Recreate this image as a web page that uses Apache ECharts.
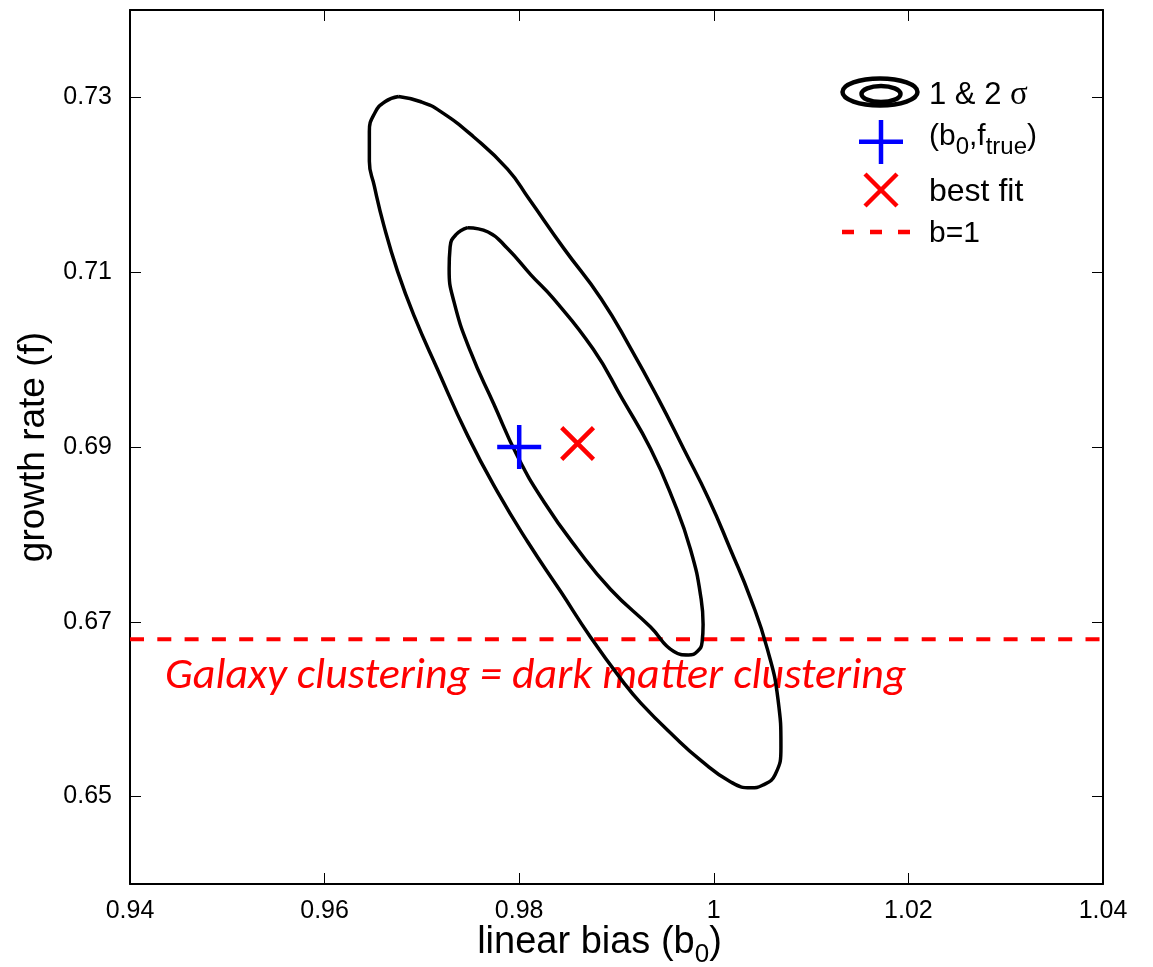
<!DOCTYPE html>
<html><head><meta charset="utf-8">
<script src="https://cdn.jsdelivr.net/npm/echarts@6/dist/echarts.min.js"></script>
<style>html,body{margin:0;padding:0;background:#fff}#c{width:1153px;height:967px}</style>
</head><body><div id="c"></div>
<script>
// ---- data ----
const xTicks = [0.94, 0.96, 0.98, 1.00, 1.02, 1.04];
const yTicks = [0.65, 0.67, 0.69, 0.71, 0.73];
const xRange = [0.94, 1.04];
const yRange = [0.64, 0.74];
// 2-sigma contour (b0, f)
const outerContour = [
  [0.9676,0.7301],[0.9699,0.7295],[0.9719,0.7284],[0.9753,0.7255],[0.9788,0.7218],
  [0.9810,0.7184],[0.9846,0.7127],[0.9884,0.7070],[0.9915,0.7012],[0.9943,0.6955],
  [0.9969,0.6898],[0.9995,0.6840],[1.0017,0.6783],[1.0038,0.6726],[1.0055,0.6669],
  [1.0066,0.6611],[1.0069,0.6557],[1.0063,0.6525],[1.0050,0.6513],[1.0038,0.6510],
  [1.0017,0.6517],[0.9986,0.6542],[0.9959,0.6569],[0.9925,0.6607],[0.9907,0.6631],
  [0.9873,0.6683],[0.9843,0.6734],[0.9809,0.6791],[0.9778,0.6848],[0.9747,0.6913],
  [0.9716,0.6989],[0.9692,0.7050],[0.9675,0.7101],[0.9661,0.7153],[0.9651,0.7199],
  [0.9646,0.7227],[0.9646,0.7261],[0.9652,0.7283],[0.9662,0.7295],[0.9676,0.7301]
];
// 1-sigma contour (b0, f)
const innerContour = [
  [0.9747,0.7151],[0.9768,0.7146],[0.9788,0.7127],[0.9812,0.7097],[0.9835,0.7070],
  [0.9876,0.7012],[0.9906,0.6955],[0.9935,0.6898],[0.9958,0.6840],[0.9976,0.6783],
  [0.9987,0.6726],[0.9989,0.6697],[0.9988,0.6677],[0.9983,0.6666],[0.9974,0.6662],
  [0.9959,0.6666],[0.9935,0.6694],[0.9894,0.6737],[0.9860,0.6783],[0.9825,0.6838],
  [0.9798,0.6890],[0.9774,0.6949],[0.9750,0.7009],[0.9733,0.7066],[0.9728,0.7104],
  [0.9729,0.7129],[0.9735,0.7143],[0.9747,0.7151]
];
const truePoint = [0.980, 0.690];   // (b0, f_true)
const bestFit = [0.986, 0.6904];
const bOneF = 0.668;                 // b = 1 line
const labels = {
  x: 'linear bias (b{sub|0})',
  y: 'growth rate (f)',
  contours: '1 & 2 {g|σ}',
  truth: '(b{s|0},f{s|true})',
  fit: 'best fit',
  bOne: 'b=1',
  note: 'Galaxy clustering = dark matter clustering'
};

// ---- styles ----
const SANS = "'Liberation Sans', Arial, Helvetica, sans-serif";
const PLUS = 'path://M-2.25,-22H2.25V22H-2.25Z M-22,-2.25H22V2.25H-22Z';
const CROSS = 'path://M-14.41,-17.59L17.59,14.41L14.41,17.59L-17.59,-14.41Z M14.41,-17.59L17.59,-14.41L-14.41,17.59L-17.59,14.41Z';

const axisLine = {show: true, onZero: false, lineStyle: {color: '#000', width: 2}};
const tickStyle = {show: true, inside: true, length: 11, lineStyle: {color: '#000', width: 1}};
const fmt = v => String(+(+v).toFixed(2));

const chart = echarts.init(document.getElementById('c'));
chart.setOption({
  animation: false,
  backgroundColor: '#fff',
  grid: {left: 130, right: 50, top: 10, bottom: 83, outerBoundsMode: 'none', containLabel: false},
  xAxis: [{
    type: 'value', min: xRange[0], max: xRange[1], interval: 0.02, position: 'bottom',
    name: labels.x, nameLocation: 'middle', nameGap: 34, nameMoveOverlap: false,
    nameTextStyle: {color: '#000', fontSize: 38, fontFamily: SANS, lineHeight: 50, padding: [0, 34, 0, 0],
      rich: {sub: {fontSize: 26, fontFamily: SANS, color: '#000', lineHeight: 26, verticalAlign: 'bottom'}}},
    axisLine, axisTick: tickStyle,
    axisLabel: {color: '#000', fontSize: 25, fontFamily: SANS, margin: 15, formatter: fmt,
      customValues: xTicks},
    splitLine: {show: false}
  }, {
    type: 'value', min: xRange[0], max: xRange[1], interval: 0.02, position: 'top',
    axisLine, axisTick: tickStyle, axisLabel: {show: false}, splitLine: {show: false}
  }],
  yAxis: [{
    type: 'value', min: yRange[0], max: yRange[1], interval: 0.02, position: 'left',
    name: labels.y, nameLocation: 'middle', nameGap: 67, nameRotate: 90,
    nameTextStyle: {color: '#000', fontSize: 37, fontFamily: SANS},
    axisLine, axisTick: Object.assign({}, tickStyle, {customValues: yTicks}),
    axisLabel: {color: '#000', fontSize: 25, fontFamily: SANS, margin: 18,
      customValues: yTicks, formatter: v => (+v).toFixed(2)},
    splitLine: {show: false}
  }, {
    type: 'value', min: yRange[0], max: yRange[1], interval: 0.02, position: 'right',
    axisLine, axisTick: Object.assign({}, tickStyle, {customValues: yTicks}),
    axisLabel: {show: false}, splitLine: {show: false}
  }],
  series: [{
    name: '2 sigma', type: 'line', data: outerContour, showSymbol: false, smooth: 0.5,
    lineStyle: {color: '#000', width: 3.5}, z: 3
  }, {
    name: '1 sigma', type: 'line', data: innerContour, showSymbol: false, smooth: 0.5,
    lineStyle: {color: '#000', width: 3.5}, z: 3
  }, {
    name: 'b=1', type: 'line', data: [[xRange[0], bOneF], [xRange[1], bOneF]], showSymbol: false,
    lineStyle: {color: '#ff0000', width: 4, type: [14, 13.3]}, z: 2
  }, {
    name: '(b0,f_true)', type: 'scatter', data: [truePoint], symbol: PLUS, symbolSize: 44,
    itemStyle: {color: '#0000ff', opacity: 1}, z: 5
  }, {
    name: 'best fit', type: 'scatter', data: [bestFit], symbol: CROSS, symbolSize: 35,
    itemStyle: {color: '#ff0000', opacity: 1}, z: 5
  }],
  graphic: [
    // legend
    {type: 'ellipse', shape: {cx: 880, cy: 92, rx: 37.5, ry: 13.5}, style: {fill: null, stroke: '#000', lineWidth: 4.5}},
    {type: 'ellipse', shape: {cx: 881, cy: 94, rx: 19.5, ry: 8}, style: {fill: null, stroke: '#000', lineWidth: 4.5}},
    {type: 'text', x: 929, y: 95, style: {text: labels.contours, fill: '#000', fontSize: 31, fontFamily: SANS,
      verticalAlign: 'middle', rich: {g: {fontSize: 33, fontFamily: "'Liberation Serif', 'DejaVu Serif', serif", fill: '#000'}}}},
    {type: 'line', shape: {x1: 859, y1: 141.7, x2: 903, y2: 141.7}, style: {stroke: '#0000ff', lineWidth: 4.5}},
    {type: 'line', shape: {x1: 881, y1: 120, x2: 881, y2: 164}, style: {stroke: '#0000ff', lineWidth: 4.5}},
    {type: 'text', x: 929, y: 137, style: {text: labels.truth, fill: '#000', fontSize: 30, fontFamily: SANS,
      verticalAlign: 'middle', lineHeight: 44,
      rich: {s: {fontSize: 24, fontFamily: SANS, fill: '#000', lineHeight: 24, verticalAlign: 'bottom'}}}},
    {type: 'line', shape: {x1: 865, y1: 174, x2: 897, y2: 206}, style: {stroke: '#ff0000', lineWidth: 4.5}},
    {type: 'line', shape: {x1: 897, y1: 174, x2: 865, y2: 206}, style: {stroke: '#ff0000', lineWidth: 4.5}},
    {type: 'text', x: 929, y: 192, style: {text: labels.fit, fill: '#000', fontSize: 32, fontFamily: SANS, verticalAlign: 'middle'}},
    {type: 'line', shape: {x1: 842, y1: 232, x2: 912, y2: 232}, style: {stroke: '#ff0000', lineWidth: 4.5, lineDash: [12, 16]}},
    {type: 'text', x: 929, y: 234, style: {text: labels.bOne, fill: '#000', fontSize: 30, fontFamily: SANS, verticalAlign: 'middle'}},
    // annotation
    {type: 'text', x: 165, y: 677, style: {text: labels.note, fill: '#ff0000', fontSize: 44, fontStyle: 'italic',
      fontFamily: "Carlito, Lato, 'Open Sans', sans-serif", verticalAlign: 'middle'}}
  ]
});
</script></body></html>
